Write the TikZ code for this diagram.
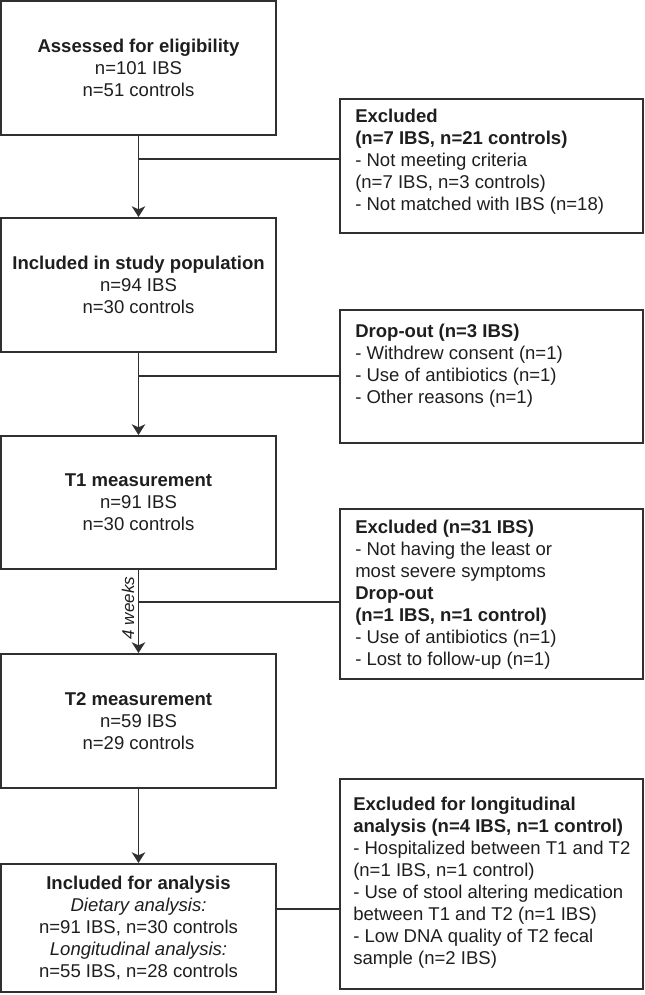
\documentclass[tikz,border=0pt]{standalone}
\usepackage{fontspec}
\setmainfont{Liberation Sans}
\usetikzlibrary{arrows.meta}
\definecolor{linec}{HTML}{303030}
\definecolor{textc}{HTML}{1E1E1E}
\begin{document}
\begin{tikzpicture}[x=0.75pt,y=-0.75pt,
  box/.style={draw=linec, line width=1.45pt, rectangle, inner sep=0pt, text=textc,
    align=center, font=\fontsize{13.9pt}{16.5pt}\selectfont},
  lbox/.style={box, minimum width=275*0.75pt},
  rbox/.style={box, minimum width=303*0.75pt},
  rtext/.style={anchor=west, inner sep=0pt, align=left, text=textc,
    font=\fontsize{13.9pt}{16.5pt}\selectfont},
  conn/.style={draw=linec, line width=1.45pt},
  arr/.style={conn, -{Stealth[length=8pt, width=10pt, inset=2.2pt]}},
  weeks/.style={rotate=90, anchor=south, inner sep=2.5pt, text=textc,
    font=\fontsize{12.8pt}{15pt}\selectfont\itshape}
]
\useasboundingbox (0,0) rectangle (645,995);

% left column
\node[lbox, minimum height=134*0.75pt] (b1) at (138.5,68)
  {\textbf{Assessed for eligibility}\\n=101 IBS\\n=51 controls};
\node[lbox, minimum height=134*0.75pt] (b2) at (138.5,285)
  {\textbf{Included in study population}\\n=94 IBS\\n=30 controls};
\node[lbox, minimum height=133*0.75pt] (b3) at (138.5,502.5)
  {\textbf{T1 measurement}\\n=91 IBS\\n=30 controls};
\node[lbox, minimum height=134*0.75pt] (b4) at (138.5,721)
  {\textbf{T2 measurement}\\n=59 IBS\\n=29 controls};
\node[lbox, minimum height=128*0.75pt] (b5) at (138.5,928)
  {\textbf{Included for analysis}\\\textit{Dietary analysis:}\\n=91 IBS, n=30 controls\\\textit{Longitudinal analysis:}\\n=55 IBS, n=28 controls};

% right column boxes
\node[rbox, minimum height=134*0.75pt] (r1) at (491.5,166) {};
\node[rbox, minimum height=133*0.75pt] (r2) at (491.5,376.5) {};
\node[rbox, minimum height=170*0.75pt] (r3) at (491.5,594) {};
\node[rbox, minimum height=210*0.75pt] (r4) at (491.5,884) {};

\node[rtext] (rt1) at (355,162)
  {\textbf{Excluded}\\\textbf{(n=7 IBS, n=21 controls)}\\- Not meeting criteria\\(n=7 IBS, n=3 controls)\\- Not matched with IBS (n=18)};
\node[rtext] (rt2) at (355,366)
  {\textbf{Drop-out (n=3 IBS)}\\- Withdrew consent (n=1)\\- Use of antibiotics (n=1)\\- Other reasons (n=1)};
\node[rtext] (rt3) at (355,595)
  {\textbf{Excluded (n=31 IBS)}\\- Not having the least or\\most severe symptoms\\\textbf{Drop-out}\\\textbf{(n=1 IBS, n=1 control)}\\- Use of antibiotics (n=1)\\- Lost to follow-up (n=1)};
\node[rtext] (rt4) at (353,883)
  {\textbf{Excluded for longitudinal}\\\textbf{analysis (n=4 IBS, n=1 control)}\\- Hospitalized between T1 and T2\\(n=1 IBS, n=1 control)\\- Use of stool altering medication\\between T1 and T2 (n=1 IBS)\\- Low DNA quality of T2 fecal\\sample (n=2 IBS)};

% junction points
\coordinate (j1) at (139,159);
\coordinate (j2) at (139,376);
\coordinate (j3) at (139,602);
\coordinate (j4) at (276,909);

% vertical arrows
\draw[arr] (b1.south) -- (b2.north);
\draw[arr] (b2.south) -- (b3.north);
\draw[arr] (b3.south) -- node[weeks, pos=0.46] {4 weeks} (b4.north);
\draw[arr] (b4.south) -- (b5.north);

% side branches
\draw[conn] (j1) -- (j1 -| r1.west);
\draw[conn] (j2) -- (j2 -| r2.west);
\draw[conn] (j3) -- (j3 -| r3.west);
\draw[conn] (j4 -| b5.east) -- (j4 -| r4.west);
\end{tikzpicture}
\end{document}
